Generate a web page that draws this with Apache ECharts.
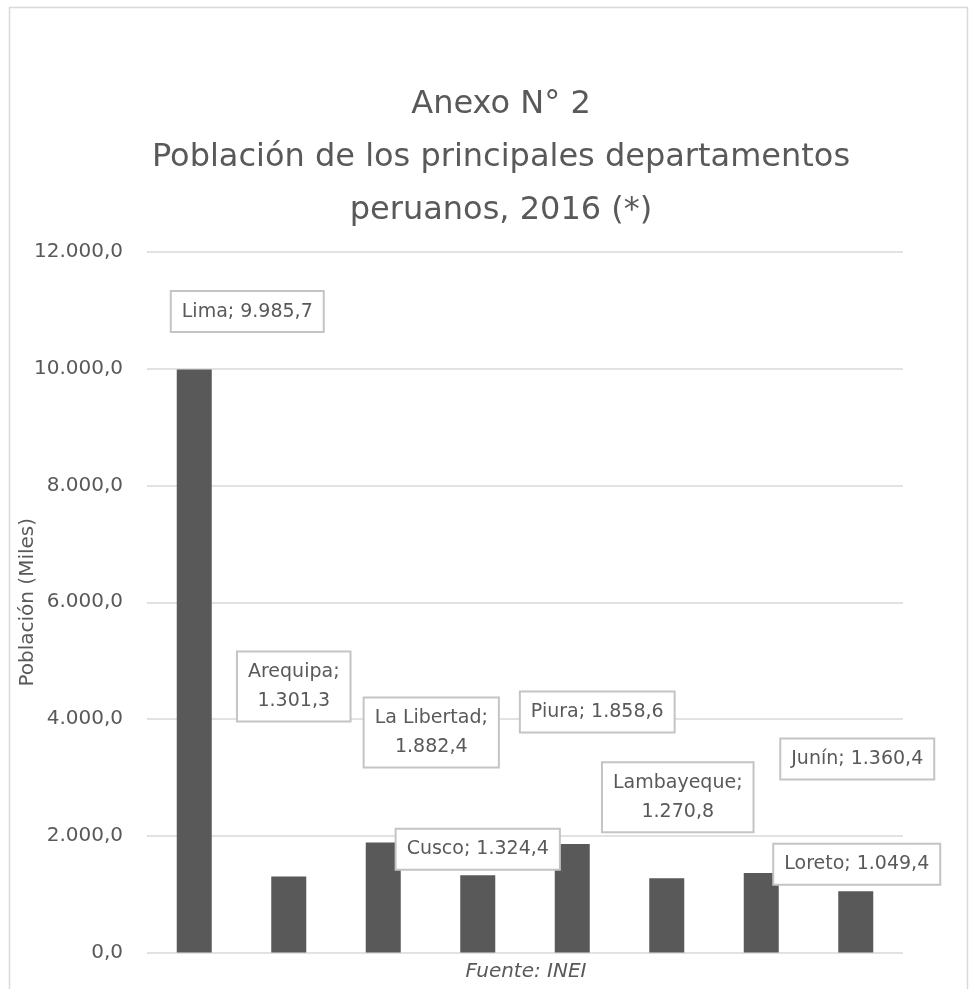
<!DOCTYPE html>
<html>
<head>
<meta charset="utf-8">
<script src="https://cdn.jsdelivr.net/npm/echarts@6/dist/echarts.min.js"></script>
<style>
  html, body { margin: 0; padding: 0; background: #fff; }
  #chart { width: 972px; height: 989px; }
</style>
</head>
<body>
<div id="chart"></div>
<script>
// datos
var departamentos = ['Lima', 'Arequipa', 'La Libertad', 'Cusco', 'Piura', 'Lambayeque', 'Junín', 'Loreto'];
var poblacion = [9985.7, 1301.3, 1882.4, 1324.4, 1858.6, 1270.8, 1360.4, 1049.4];
var yMin = 0, yMax = 12000, yStep = 2000;

// where each label box sits relative to the top of its bar (as in the original)
var labelOffsets = [[53, -58], [5, -190], [48, -110], [0, -26], [25, -132], [11, -81], [96, -114], [1, -27]];
var labelWrap = [false, true, true, false, false, true, false, false];

function fmt(v, dec) {
    var parts = v.toFixed(dec).split('.');
    var ent = parts[0].replace(/\B(?=(\d{3})+(?!\d))/g, '.');
    return ent + ',' + parts[1];
}

var grey = '#595959';
var font = 'DejaVu Sans';

var chart = echarts.init(document.getElementById('chart'));

var seriesData = poblacion.map(function (v, i) {
    return {
        value: v,
        label: {
            offset: labelOffsets[i],
            formatter: departamentos[i] + ';' + (labelWrap[i] ? '\n' : ' ') + fmt(v, 1)
        }
    };
});

var option = {
    animation: false,
    textStyle: { fontFamily: font, color: grey },
    title: {
        text: 'Anexo N° 2\nPoblación de los principales departamentos\nperuanos, 2016 (*)',
        left: 496,
        textAlign: 'center',
        top: 73,
        textStyle: {
            fontFamily: font,
            fontWeight: 'normal',
            fontSize: 32,
            lineHeight: 53,
            color: grey
        }
    },
    grid: {
        left: 147,
        right: 69,
        top: 252,
        bottom: 36.5,
        outerBoundsMode: 'none'
    },
    xAxis: {
        type: 'category',
        data: departamentos,
        axisLine: { show: false },
        axisTick: { show: false },
        axisLabel: { show: false }
    },
    yAxis: {
        type: 'value',
        min: yMin,
        max: yMax,
        interval: yStep,
        name: 'Población (Miles)',
        nameLocation: 'middle',
        nameGap: 109,
        nameMoveOverlap: false,
        nameTextStyle: { fontSize: 20, color: grey, fontFamily: font },
        axisLabel: {
            margin: 24,
            fontSize: 20,
            color: grey,
            formatter: function (v) { return fmt(v, 1); }
        },
        splitLine: { lineStyle: { color: '#d9d9d9', width: 1.5 } }
    },
    graphic: [
        {
            type: 'rect',
            shape: { x: 9.5, y: 7.5, width: 958, height: 1000 },
            style: { fill: 'none', stroke: '#d9d9d9', lineWidth: 1.5 },
            silent: true
        },
        {
            type: 'text',
            x: 526,
            y: 972,
            style: {
                text: 'Fuente: INEI',
                align: 'center',
                verticalAlign: 'middle',
                fontFamily: font,
                fontStyle: 'italic',
                fontSize: 20,
                fill: grey
            }
        }
    ],
    series: [{
        type: 'bar',
        data: seriesData,
        barWidth: 35,
        itemStyle: { color: grey },
        label: {
            show: true,
            position: ['50%', 0],
            align: 'center',
            verticalAlign: 'middle',
            fontFamily: font,
            fontSize: 19,
            lineHeight: 29,
            color: grey,
            backgroundColor: '#fff',
            borderColor: '#c4c4c4',
            borderWidth: 2,
            padding: [5, 10]
        }
    }]
};

chart.setOption(option);
</script>
</body>
</html>
